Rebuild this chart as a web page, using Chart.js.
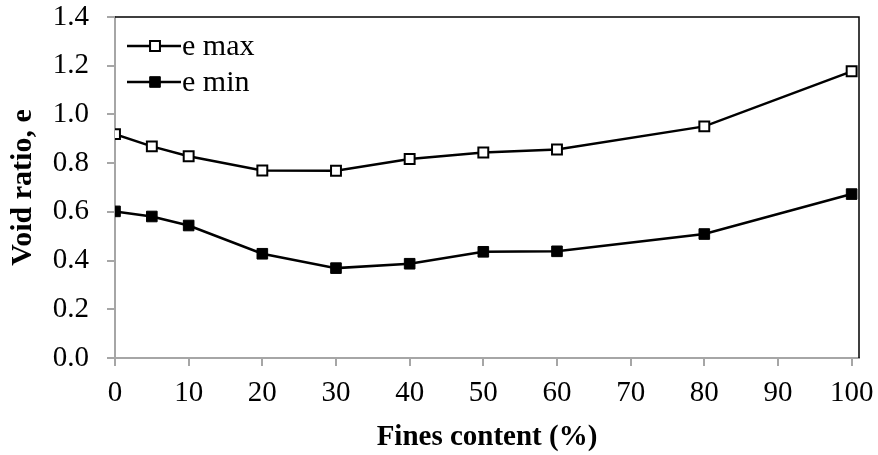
<!DOCTYPE html>
<html>
<head>
<meta charset="utf-8">
<script src="https://cdn.jsdelivr.net/npm/chart.js@4.4.1/dist/chart.umd.min.js"></script>
<style>
html,body{margin:0;padding:0;background:#fff;}
#wrap{width:878px;height:455px;position:relative;}
</style>
</head>
<body>
<div id="wrap"><canvas id="c" width="878" height="455"></canvas></div>
<script>
const finesContent = [0, 5, 10, 20, 30, 40, 50, 60, 80, 100];
const eMax = [0.919, 0.869, 0.828, 0.770, 0.769, 0.817, 0.844, 0.856, 0.951, 1.177];
const eMin = [0.602, 0.581, 0.544, 0.428, 0.369, 0.387, 0.436, 0.438, 0.509, 0.673];
const seriesLabels = ['e max', 'e min'];
const xTitle = 'Fines content (%)';
const yTitle = 'Void ratio, e';

const FONT = '"Liberation Serif", "Times New Roman", serif';

const frame = {
  id: 'frame',
  afterDatasetsDraw(chart) {
    const {ctx, chartArea: a} = chart;
    ctx.save();
    ctx.strokeStyle = '#000';
    ctx.lineWidth = 1.5;
    ctx.beginPath();
    ctx.moveTo(a.left, a.top);
    ctx.lineTo(a.right, a.top);
    ctx.lineTo(a.right, a.bottom);
    ctx.stroke();
    ctx.restore();
  }
};

const insideLegend = {
  id: 'insideLegend',
  afterDraw(chart) {
    const {ctx} = chart;
    const rows = [46, 82];
    chart.data.datasets.forEach((ds, i) => {
      const y = rows[i];
      ctx.save();
      ctx.strokeStyle = '#000';
      ctx.lineWidth = ds.borderWidth;
      ctx.beginPath();
      ctx.moveTo(127, y);
      ctx.lineTo(181, y);
      ctx.stroke();
      ctx.fillStyle = ds.pointBackgroundColor;
      ctx.strokeStyle = '#000';
      ctx.lineWidth = ds.pointBorderWidth;
      const s = Math.SQRT1_2 * ds.pointRadius;
      ctx.beginPath();
      ctx.rect(155 - s, y - s, 2 * s, 2 * s);
      ctx.fill();
      ctx.stroke();
      ctx.fillStyle = '#000';
      ctx.font = '30px ' + FONT;
      ctx.textBaseline = 'middle';
      ctx.textAlign = 'left';
      ctx.fillText(ds.label, 182, y + 1);
      ctx.restore();
    });
  }
};

new Chart(document.getElementById('c'), {
  type: 'line',
  data: {
    datasets: [
      {
        label: seriesLabels[0],
        data: finesContent.map((x, i) => ({x, y: eMax[i]})),
        borderColor: '#000', borderWidth: 2.5,
        pointStyle: 'rect', pointRadius: 7, pointBorderWidth: 2,
        pointBackgroundColor: '#fff', pointBorderColor: '#000',
        tension: 0
      },
      {
        label: seriesLabels[1],
        data: finesContent.map((x, i) => ({x, y: eMin[i]})),
        borderColor: '#000', borderWidth: 2.5,
        pointStyle: 'rect', pointRadius: 7.5, pointBorderWidth: 1,
        pointBackgroundColor: '#000', pointBorderColor: '#000',
        tension: 0
      }
    ]
  },
  options: {
    responsive: false,
    animation: false,
    events: [],
    layout: {padding: {top: 17, right: 19, bottom: 0, left: 0}},
    plugins: {legend: {display: false}, tooltip: {enabled: false}},
    scales: {
      x: {
        type: 'linear', min: 0, max: 101,
        ticks: {stepSize: 10, includeBounds: false, color: '#000', padding: 10,
                font: {family: FONT, size: 29}, maxRotation: 0},
        grid: {drawOnChartArea: false, drawTicks: true, tickLength: 8, color: '#a6a6a6', lineWidth: 2},
        border: {color: '#a6a6a6', width: 2},
        title: {display: true, text: xTitle, color: '#000',
                font: {family: FONT, size: 29, weight: 'bold'}, padding: {top: 0, bottom: 0}},
        afterFit(s) { s.height = 97; s.paddingLeft = 0; s.paddingRight = 0; }
      },
      y: {
        type: 'linear', min: 0, max: 1.4,
        ticks: {stepSize: 0.2, includeBounds: false, color: '#000', padding: 18,
                font: {family: FONT, size: 29}, callback: v => v.toFixed(1)},
        grid: {drawOnChartArea: false, drawTicks: true, tickLength: 8, color: '#a6a6a6', lineWidth: 2},
        border: {color: '#a6a6a6', width: 2},
        title: {display: true, text: yTitle, color: '#000',
                font: {family: FONT, size: 30, weight: 'bold'}, padding: {top: 5, bottom: 0}},
        afterFit(s) { s.width = 115; s.paddingTop = 0; s.paddingBottom = 0; }
      }
    }
  },
  plugins: [frame, insideLegend]
});
</script>
</body>
</html>
